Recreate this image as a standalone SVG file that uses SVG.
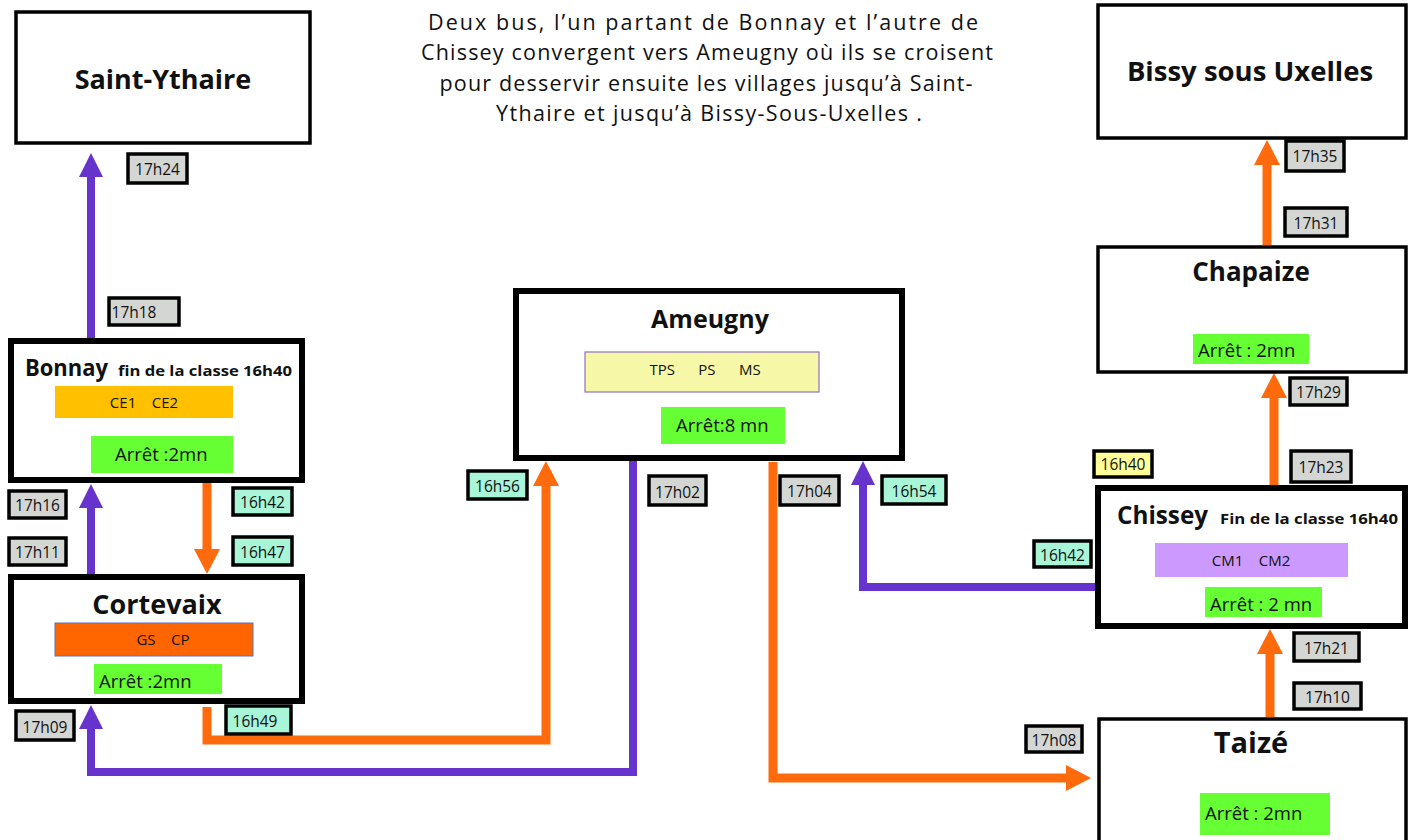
<svg xmlns="http://www.w3.org/2000/svg" width="1412" height="840" viewBox="0 0 1412 840">
<style>
  text { font-family: "Open Sans", "Liberation Sans", sans-serif; fill: #111; }
  .node { fill: #fff; stroke: #000; }
  .thick { stroke-width: 6; }
  .thin { stroke-width: 3.5; }
  .title { font-weight: bold; font-size: 25px; }
  .sub { font-weight: bold; font-size: 15px; }
  .cls { font-size: 15px; }
  .stop { fill: #66ff33; }
  .stopt { font-size: 18.5px; }
  .lab rect { stroke: #000; stroke-width: 3.5; }
  .lab text { font-size: 15.5px; }
  .gray { fill: #d4d6d4; }
  .green { fill: #a8f5d8; }
  .yellow { fill: #ffff99; }
  .para { font-size: 21.5px; text-anchor: middle; }
  .purple { fill: none; stroke: #6633cc; stroke-width: 8; stroke-linejoin: miter; }
  .orange { fill: none; stroke: #ff6a0d; stroke-width: 9; stroke-linejoin: miter; }
</style>
<defs>
  <marker id="hp" markerUnits="userSpaceOnUse" markerWidth="24" markerHeight="24" refX="0" refY="12" orient="auto" overflow="visible">
    <path d="M0,0 L24,12 L0,24 z" fill="#6633cc"/>
  </marker>
  <marker id="ho" markerUnits="userSpaceOnUse" markerWidth="25" markerHeight="26" refX="0" refY="13" orient="auto" overflow="visible">
    <path d="M0,0 L25,13 L0,26 z" fill="#ff6a0d"/>
  </marker>
</defs>
<rect width="1412" height="840" fill="#fff"/>

<g id="intro">
  <text class="para" x="703" y="30" textLength="550" lengthAdjust="spacing">Deux bus, l’un  partant  de  Bonnay  et  l’autre de</text>
  <text class="para" x="707" y="60" textLength="572" lengthAdjust="spacing">Chissey  convergent vers Ameugny où ils se croisent</text>
  <text class="para" x="706" y="91" textLength="533" lengthAdjust="spacing">pour desservir ensuite les villages jusqu’à Saint-</text>
  <text class="para" x="709" y="121" textLength="426" lengthAdjust="spacing">Ythaire et jusqu’à Bissy-Sous-Uxelles .</text>
</g>

<g id="connectors">
  <path class="purple" d="M91,338 V177" marker-end="url(#hp)"/>
  <path class="purple" d="M91,574 V508" marker-end="url(#hp)"/>
  <path class="purple" d="M633,460 V772 H91 V729" marker-end="url(#hp)"/>
  <path class="purple" d="M1095,587 H863 V485" marker-end="url(#hp)"/>
  <path class="orange" d="M207,483 V549" marker-end="url(#ho)"/>
  <path class="orange" d="M207,707 V740 H546 V486" marker-end="url(#ho)"/>
  <path class="orange" d="M773,462 V778 H1066" marker-end="url(#ho)"/>
  <path class="orange" d="M1270,717 V654" marker-end="url(#ho)"/>
  <path class="orange" d="M1274,485 V398" marker-end="url(#ho)"/>
  <path class="orange" d="M1267,245 V165" marker-end="url(#ho)"/>
</g>

<g id="saint-ythaire">
  <rect class="node thin" x="16" y="12" width="294" height="131"/>
  <text class="title" x="163" y="89" text-anchor="middle" style="font-size:27px">Saint-Ythaire</text>
</g>

<g id="bonnay">
  <rect class="node thick" x="11" y="341" width="291" height="139"/>
  <text class="title" x="25" y="376" style="font-size:24px" textLength="83" lengthAdjust="spacingAndGlyphs">Bonnay</text>
  <text class="sub" x="118" y="376" textLength="174" lengthAdjust="spacingAndGlyphs">fin de la classe 16h40</text>
  <rect x="55" y="386" width="178" height="32" fill="#ffc000"/>
  <text class="cls" x="144" y="408" text-anchor="middle" xml:space="preserve">CE1    CE2</text>
  <rect class="stop" x="91" y="436" width="142" height="37"/>
  <text class="stopt" x="115" y="461">Arrêt :2mn</text>
</g>

<g id="cortevaix">
  <rect class="node thick" x="11" y="577" width="291" height="124"/>
  <text class="title" x="157" y="614" text-anchor="middle" style="font-size:27px">Cortevaix</text>
  <rect x="55" y="623" width="198" height="33" fill="#ff6600" stroke="#5a70c0" stroke-width="1"/>
  <text class="cls" x="163" y="645" text-anchor="middle" xml:space="preserve">GS    CP</text>
  <rect class="stop" x="94" y="664" width="128" height="30"/>
  <text class="stopt" x="99" y="688">Arrêt :2mn</text>
</g>

<g id="ameugny">
  <rect class="node thick" x="516" y="291" width="386" height="167"/>
  <text class="title" x="710" y="328" text-anchor="middle">Ameugny</text>
  <rect x="585" y="352" width="234" height="40" fill="#f7f7a8" stroke="#9070c0" stroke-width="1.2"/>
  <text class="cls" x="705" y="375" text-anchor="middle" xml:space="preserve">TPS      PS      MS</text>
  <rect class="stop" x="661" y="407" width="124" height="37"/>
  <text class="stopt" x="676" y="432">Arrêt:8 mn</text>
</g>

<g id="chissey">
  <rect class="node thick" x="1098" y="488" width="307" height="138"/>
  <text class="title" x="1117" y="524" style="font-size:25px" textLength="91" lengthAdjust="spacingAndGlyphs">Chissey</text>
  <text class="sub" x="1220" y="524" textLength="178" lengthAdjust="spacingAndGlyphs">Fin de la classe 16h40</text>
  <rect x="1155" y="543" width="193" height="34" fill="#cc99ff"/>
  <text class="cls" x="1251" y="566" text-anchor="middle" xml:space="preserve">CM1    CM2</text>
  <rect class="stop" x="1205" y="587" width="117" height="30"/>
  <text class="stopt" x="1210" y="611">Arrêt : 2 mn</text>
</g>

<g id="taize">
  <rect class="node thin" x="1099" y="719" width="307" height="140"/>
  <text class="title" x="1251" y="753" text-anchor="middle" style="font-size:29px">Taizé</text>
  <rect class="stop" x="1200" y="793" width="130" height="42"/>
  <text class="stopt" x="1205" y="820">Arrêt : 2mn</text>
</g>

<g id="chapaize">
  <rect class="node thin" x="1098" y="247" width="308" height="125"/>
  <text class="title" x="1251" y="281" text-anchor="middle" style="font-size:26px">Chapaize</text>
  <rect class="stop" x="1193" y="334" width="116" height="30"/>
  <text class="stopt" x="1198" y="357">Arrêt : 2mn</text>
</g>

<g id="bissy">
  <rect class="node thin" x="1098" y="5" width="308" height="133"/>
  <text class="title" x="1250" y="81" text-anchor="middle" style="font-size:27.5px">Bissy sous Uxelles</text>
</g>

<g id="times">
  <g class="lab"><rect class="gray" x="128" y="154" width="59" height="29"/><text x="157.5" y="175" text-anchor="middle">17h24</text></g>
  <g class="lab"><rect class="gray" x="109" y="298" width="70" height="27"/><text x="134" y="318" text-anchor="middle">17h18</text></g>
  <g class="lab"><rect class="gray" x="9" y="491" width="57" height="27"/><text x="37.5" y="511" text-anchor="middle">17h16</text></g>
  <g class="lab"><rect class="gray" x="9" y="538" width="57" height="27"/><text x="37.5" y="558" text-anchor="middle">17h11</text></g>
  <g class="lab"><rect class="green" x="233" y="488" width="59" height="27"/><text x="262.5" y="508" text-anchor="middle">16h42</text></g>
  <g class="lab"><rect class="green" x="233" y="537" width="59" height="28"/><text x="262.5" y="558" text-anchor="middle">16h47</text></g>
  <g class="lab"><rect class="gray" x="16" y="711" width="58" height="29"/><text x="45" y="733" text-anchor="middle">17h09</text></g>
  <g class="lab"><rect class="green" x="226" y="706" width="65" height="28"/><text x="255" y="727" text-anchor="middle">16h49</text></g>
  <g class="lab"><rect class="green" x="468" y="471" width="59" height="28"/><text x="497.5" y="492" text-anchor="middle">16h56</text></g>
  <g class="lab"><rect class="gray" x="649" y="476" width="57" height="29"/><text x="677.5" y="498" text-anchor="middle">17h02</text></g>
  <g class="lab"><rect class="gray" x="780" y="476" width="59" height="29"/><text x="809.5" y="497" text-anchor="middle">17h04</text></g>
  <g class="lab"><rect class="green" x="882" y="476" width="64" height="28"/><text x="914" y="497" text-anchor="middle">16h54</text></g>
  <g class="lab"><rect class="yellow" x="1094" y="451" width="58" height="26"/><text x="1123" y="470" text-anchor="middle">16h40</text></g>
  <g class="lab"><rect class="gray" x="1291" y="451" width="60" height="31"/><text x="1321" y="473" text-anchor="middle">17h23</text></g>
  <g class="lab"><rect class="green" x="1034" y="541" width="57" height="26"/><text x="1062.5" y="561" text-anchor="middle">16h42</text></g>
  <g class="lab"><rect class="gray" x="1294" y="633" width="65" height="28"/><text x="1326.5" y="654" text-anchor="middle">17h21</text></g>
  <g class="lab"><rect class="gray" x="1294" y="683" width="67" height="26"/><text x="1327.5" y="703" text-anchor="middle">17h10</text></g>
  <g class="lab"><rect class="gray" x="1026" y="726" width="56" height="26"/><text x="1054" y="746" text-anchor="middle">17h08</text></g>
  <g class="lab"><rect class="gray" x="1286" y="141" width="58" height="30"/><text x="1315" y="162" text-anchor="middle">17h35</text></g>
  <g class="lab"><rect class="gray" x="1285" y="208" width="62" height="28"/><text x="1316" y="229" text-anchor="middle">17h31</text></g>
  <g class="lab"><rect class="gray" x="1290" y="378" width="57" height="27"/><text x="1318.5" y="398" text-anchor="middle">17h29</text></g>
</g>
</svg>
